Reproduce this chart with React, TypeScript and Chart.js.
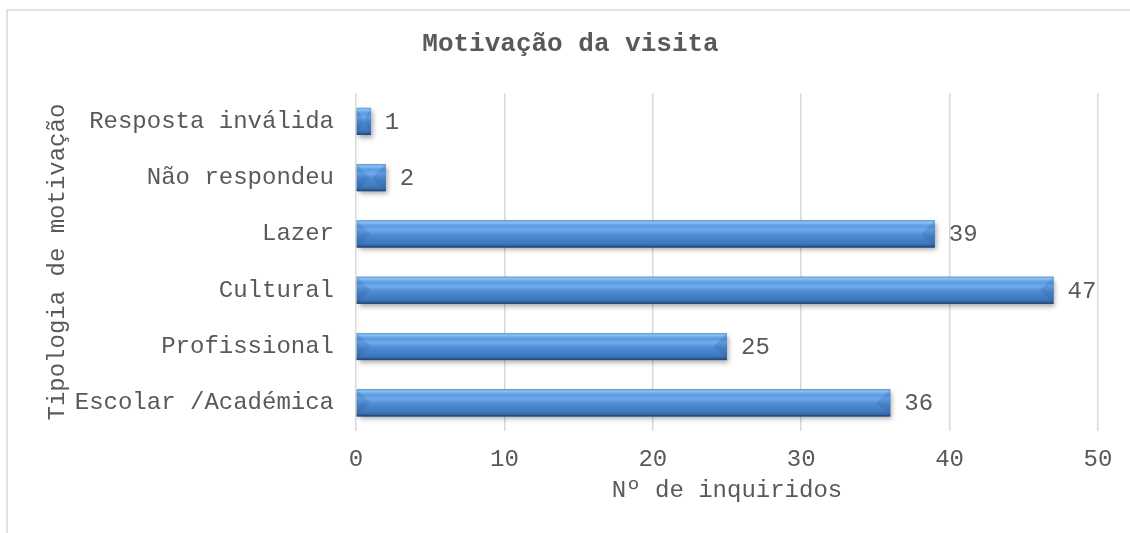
import React, { useEffect, useRef } from "react";
import { Chart, registerables } from "chart.js";

Chart.register(...registerables);

const categories = [
  "Escolar /Académica",
  "Profissional",
  "Cultural",
  "Lazer",
  "Não respondeu",
  "Resposta inválida",
];
const values = [36, 25, 47, 39, 2, 1];
const xMin = 0;
const xMax = 50;
const xStep = 10;
const chartTitle = "Motivação da visita";
const xTitle = "Nº de inquiridos";
const yTitle = "Tipologia de motivação";

const FONT = "'Liberation Mono', 'Cousine', monospace";
const TEXT = "#595959";

const framePlugin = {
  id: "frame",
  beforeDraw(chart: any) {
    const ctx = chart.ctx;
    ctx.save();
    ctx.strokeStyle = "#d9d9d9";
    ctx.lineWidth = 1.5;
    ctx.beginPath();
    ctx.moveTo(7, chart.height);
    ctx.lineTo(7, 10);
    ctx.lineTo(chart.width, 10);
    ctx.stroke();
    ctx.restore();
  },
};

const bevelBarsPlugin = {
  id: "bevelBars",
  beforeDatasetsDraw(chart: any) {
    const ctx = chart.ctx;
    const meta = chart.getDatasetMeta(0);
    meta.data.forEach((el: any) => {
      const { x, y, base, height } = el.getProps(["x", "y", "base", "height"], true);
      const left = Math.min(base, x);
      const right = Math.max(base, x);
      const top = y - height / 2;
      const bottom = y + height / 2;
      const w = right - left;
      // shadow
      ctx.save();
      ctx.shadowColor = "rgba(0,0,0,0.35)";
      ctx.shadowBlur = 5;
      ctx.shadowOffsetX = 2;
      ctx.shadowOffsetY = 3;
      ctx.fillStyle = "#3f78bd";
      ctx.fillRect(left, top, w, height);
      ctx.restore();
      // body gradient
      const g = ctx.createLinearGradient(0, top, 0, bottom);
      g.addColorStop(0, "#5d98da");
      g.addColorStop(0.07, "#8cc2f2");
      g.addColorStop(0.2, "#5a9ae0");
      g.addColorStop(0.35, "#6eaaec");
      g.addColorStop(0.55, "#4d8bd2");
      g.addColorStop(0.85, "#3e77bd");
      g.addColorStop(1, "#2a5186");
      ctx.save();
      ctx.fillStyle = g;
      ctx.fillRect(left, top, w, height);
      // end caps
      const cap = Math.min(height / 2, w / 2);
      ctx.fillStyle = "rgba(20,60,120,0.14)";
      ctx.beginPath();
      ctx.moveTo(left, top);
      ctx.lineTo(left + cap, y);
      ctx.lineTo(left, bottom);
      ctx.closePath();
      ctx.fill();
      ctx.fillStyle = "rgba(30,80,140,0.18)";
      ctx.beginPath();
      ctx.moveTo(right, top);
      ctx.lineTo(right - cap, y);
      ctx.lineTo(right, bottom);
      ctx.closePath();
      ctx.fill();
      // bottom dark edge
      ctx.fillStyle = "#264a7a";
      ctx.fillRect(left, bottom - 1.2, w, 1.2);
      ctx.restore();
    });
    return false;
  },
  afterDraw(chart: any) {
    const ctx = chart.ctx;
    const meta = chart.getDatasetMeta(0);
    ctx.save();
    ctx.font = `24px ${FONT}`;
    ctx.fillStyle = TEXT;
    ctx.textAlign = "left";
    ctx.textBaseline = "middle";
    meta.data.forEach((el: any, i: number) => {
      ctx.fillText(String(values[i]), el.x + 14, el.y + 1);
    });
    ctx.restore();
  },
};

export default function App() {
  const ref = useRef<HTMLCanvasElement | null>(null);

  useEffect(() => {
    document.body.style.margin = "0";
    if (!ref.current) return;
    const chart = new Chart(ref.current, {
      type: "bar",
      data: {
        labels: categories,
        datasets: [
          {
            data: values,
            backgroundColor: "#4a86c8",
            barThickness: 27,
          },
        ],
      },
      options: {
        indexAxis: "y",
        animation: false,
        responsive: false,
        maintainAspectRatio: false,
        layout: { padding: { left: 43, right: 32, top: 0, bottom: 28 } },
        plugins: {
          legend: { display: false },
          tooltip: { enabled: false },
          title: {
            display: true,
            text: chartTitle,
            color: TEXT,
            font: { family: FONT, size: 26, weight: "bold" },
            padding: { top: 29, bottom: 33 },
          },
        },
        scales: {
          x: {
            min: xMin,
            max: xMax,
            ticks: {
              stepSize: xStep,
              color: TEXT,
              font: { family: FONT, size: 24 },
              padding: 14,
            },
            grid: { color: "#d9d9d9", lineWidth: 1.5, drawTicks: false },
            border: { display: false },
            title: {
              display: true,
              text: xTitle,
              color: TEXT,
              font: { family: FONT, size: 24 },
              padding: { top: 0, bottom: 0 },
            },
            afterFit(scale: any) {
              scale.height = 74;
            },
          },
          y: {
            reverse: true,
            ticks: {
              color: TEXT,
              font: { family: FONT, size: 24 },
              padding: 22,
            },
            grid: { display: false, drawTicks: false },
            border: { display: false },
            title: {
              display: true,
              text: yTitle,
              color: TEXT,
              font: { family: FONT, size: 24 },
              padding: { top: 0, bottom: 0 },
            },
            afterFit(scale: any) {
              scale.width = 313;
            },
          },
        },
      },
      plugins: [framePlugin, bevelBarsPlugin],
    } as any);
    return () => chart.destroy();
  }, []);

  return (
    <div style={{ width: 1130, height: 533, position: "relative" }}>
      <canvas ref={ref} width={1130} height={533} style={{ width: 1130, height: 533, display: "block" }} />
    </div>
  );
}
